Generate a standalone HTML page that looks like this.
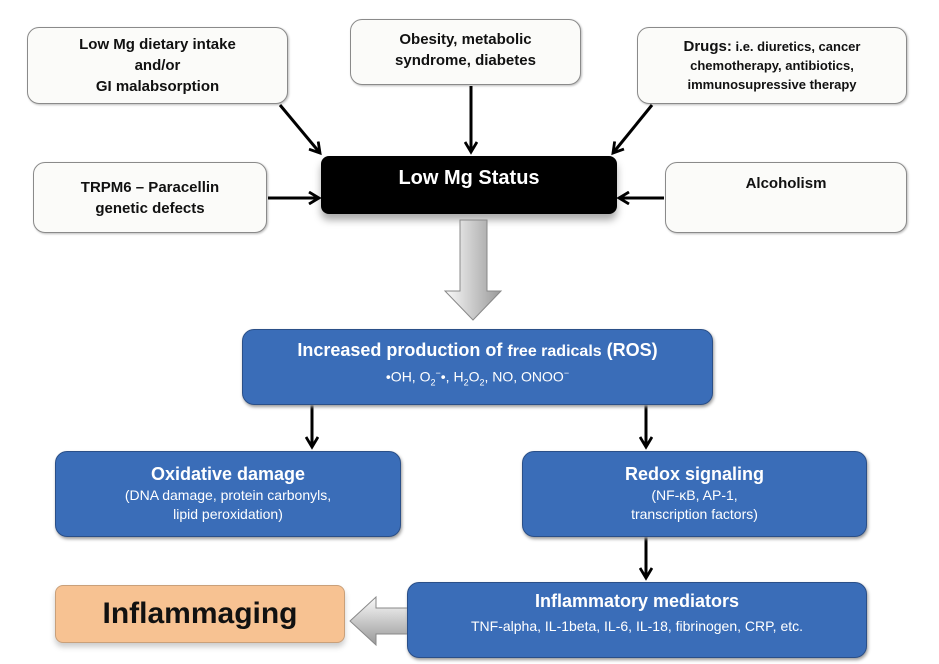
<!DOCTYPE html>
<html><head><meta charset="utf-8"><style>
body{margin:0;width:939px;height:664px;background:#fff;position:relative;overflow:hidden;font-family:"Liberation Sans",sans-serif;}
.b{position:absolute;box-sizing:border-box;display:flex;flex-direction:column;justify-content:center;align-items:center;text-align:center;}
.w{background:#fbfbf9;border:1.5px solid #8a8a8a;border-radius:12px;color:#111;font-weight:bold;font-size:15px;line-height:21px;box-shadow:1px 1px 2px #bbb;}
.bl{background:#3a6db8;border:1.5px solid #2a4f88;border-radius:12px;color:#fff;box-shadow:1px 2px 3px #999;}
.t{font-weight:bold;font-size:18px;line-height:24px;}
.s{font-size:14px;line-height:19px;}
</style></head><body>
<div class="b w" style="left:27px;top:27px;width:261px;height:77px;">Low Mg dietary intake<br>and/or<br>GI malabsorption</div>
<div class="b w" style="left:350px;top:19px;width:231px;height:66px;justify-content:flex-start;padding-top:9px;">Obesity, metabolic<br>syndrome, diabetes</div>
<div class="b w" style="left:637px;top:27px;width:270px;height:77px;font-size:13px;line-height:19px;"><div><span style="font-size:15px">Drugs:</span> i.e. diuretics, cancer<br>chemotherapy, antibiotics,<br>immunosupressive therapy</div></div>
<div class="b w" style="left:33px;top:162px;width:234px;height:71px;">TRPM6 – Paracellin<br>genetic defects</div>
<div class="b w" style="left:665px;top:162px;width:242px;height:71px;justify-content:flex-start;padding-top:10px;">Alcoholism</div>
<div class="b" style="left:321px;top:156px;width:296px;height:58px;background:#000;border-radius:8px;color:#fff;font-weight:bold;font-size:20px;justify-content:flex-start;padding-top:11px;box-shadow:0 6px 8px #aaa;">Low Mg Status</div>
<svg width="939" height="664" style="position:absolute;left:0;top:0" xmlns="http://www.w3.org/2000/svg">
<defs><marker id="a" markerWidth="14" markerHeight="14" refX="11" refY="7" orient="auto" markerUnits="userSpaceOnUse"><path d="M1,1 L11,7 L1,13" fill="none" stroke="#000" stroke-width="2.8"/></marker>
<linearGradient id="g" x1="0" x2="1"><stop offset="0" stop-color="#fafafa"/><stop offset="1" stop-color="#999"/></linearGradient>
<linearGradient id="g2" y1="0" y2="1" x1="0" x2="0"><stop offset="0" stop-color="#fafafa"/><stop offset="1" stop-color="#999"/></linearGradient></defs>
<g stroke="#000" stroke-width="3" marker-end="url(#a)">
<line x1="280" y1="105" x2="320" y2="153"/>
<line x1="471" y1="86" x2="471" y2="152"/>
<line x1="652" y1="105" x2="613" y2="153"/>
<line x1="268" y1="198" x2="319" y2="198"/>
<line x1="664" y1="198" x2="619" y2="198"/>
<line x1="312" y1="405" x2="312" y2="447"/>
<line x1="646" y1="405" x2="646" y2="447"/>
<line x1="646" y1="537" x2="646" y2="578"/>
</g>
<path d="M460,220 L487,220 L487,291 L501,291 L473,320 L445,291 L460,291 Z" fill="url(#g)" stroke="#888"/>
<path d="M410,608 L376,608 L376,597 L350,621 L376,645 L376,634 L410,634 Z" fill="url(#g2)" stroke="#888"/>
</svg>
<div class="b bl" style="left:242px;top:329px;width:471px;height:76px;justify-content:flex-start;padding-top:8px;"><div class="t">Increased production of <span style="font-size:16px">free radicals</span> (ROS)</div><div class="s">•OH, O<sub style="font-size:9px">2</sub><sup style="font-size:9px">−</sup>•, H<sub style="font-size:9px">2</sub>O<sub style="font-size:9px">2</sub>, NO, ONOO<sup style="font-size:9px">−</sup></div></div>
<div class="b bl" style="left:55px;top:451px;width:346px;height:86px;justify-content:flex-start;padding-top:10px;"><div class="t">Oxidative damage</div><div class="s">(DNA damage, protein carbonyls,<br>lipid peroxidation)</div></div>
<div class="b bl" style="left:522px;top:451px;width:345px;height:86px;justify-content:flex-start;padding-top:10px;"><div class="t">Redox signaling</div><div class="s">(NF-κB, AP-1,<br>transcription factors)</div></div>
<div class="b bl" style="left:407px;top:582px;width:460px;height:76px;justify-content:flex-start;padding-top:6px;"><div class="t">Inflammatory mediators</div><div class="s" style="margin-top:4px">TNF-alpha, IL-1beta, IL-6, IL-18, fibrinogen, CRP, etc.</div></div>
<div class="b" style="left:55px;top:585px;width:290px;height:58px;background:#f7c292;border:1.5px solid #c9a07a;border-radius:8px;font-weight:bold;font-size:30px;color:#111;box-shadow:0 4px 6px #ccc;">Inflammaging</div>
</body></html>
